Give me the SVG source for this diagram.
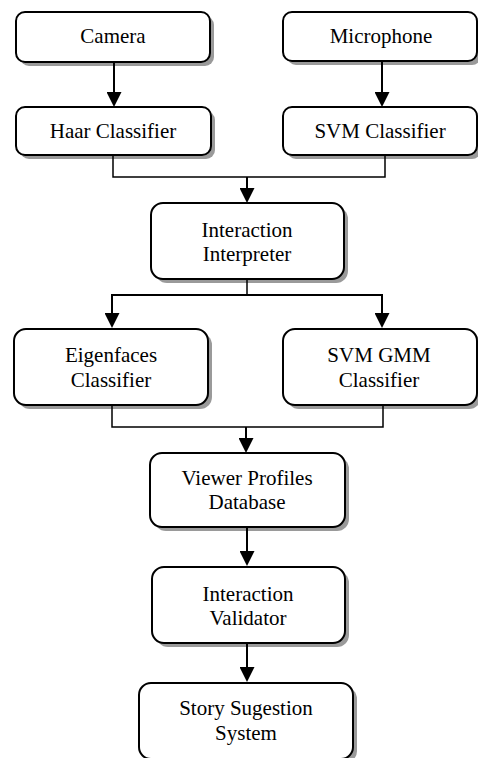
<svg xmlns="http://www.w3.org/2000/svg" width="478" height="758" viewBox="0 0 478 758">
<style>
.box{fill:#fff;stroke:#000;stroke-width:2}
.sh{fill:#9a9a9a;stroke:none}
.t{font-family:"Liberation Serif","Times New Roman",serif;font-size:21px;fill:#000;text-anchor:middle}
.c{fill:none;stroke:#000;stroke-width:2}
.thin{fill:none;stroke:#000;stroke-width:1.5}
.a{fill:none;stroke:#000;stroke-width:2;marker-end:url(#ah)}
</style>
<defs>
<marker id="ah" markerUnits="userSpaceOnUse" markerWidth="15" markerHeight="15" refX="3" refY="7.5" orient="auto">
<path d="M0,0 L15,7.5 L0,15 z" fill="#000"/>
</marker>
</defs>
<rect width="478" height="758" fill="#fff"/>
<g id="camera">
<rect class="sh" x="20" y="16" width="194" height="50" rx="9"/>
<rect class="box" x="16" y="12" width="194" height="50" rx="9"/>
<text class="t" x="113" y="43">Camera</text>
</g>
<g id="microphone">
<rect class="sh" x="287" y="16" width="194" height="49" rx="9"/>
<rect class="box" x="283" y="12" width="194" height="49" rx="9"/>
<text class="t" x="381" y="43">Microphone</text>
</g>
<g id="haar">
<rect class="sh" x="20" y="111" width="195" height="48" rx="9"/>
<rect class="box" x="16" y="107" width="195" height="48" rx="9"/>
<text class="t" x="113" y="138">Haar Classifier</text>
</g>
<g id="svm">
<rect class="sh" x="287" y="111" width="194" height="48" rx="9"/>
<rect class="box" x="283" y="107" width="194" height="48" rx="9"/>
<text class="t" x="380" y="138">SVM Classifier</text>
</g>
<g id="interpreter">
<rect class="sh" x="155" y="207" width="193" height="76" rx="12"/>
<rect class="box" x="151" y="203" width="193" height="76" rx="12"/>
<text class="t" x="247" y="237">Interaction</text>
<text class="t" x="247" y="261">Interpreter</text>
</g>
<g id="eigenfaces">
<rect class="sh" x="18" y="333" width="194" height="76" rx="12"/>
<rect class="box" x="14" y="329" width="194" height="76" rx="12"/>
<text class="t" x="111" y="362">Eigenfaces</text>
<text class="t" x="111" y="387">Classifier</text>
</g>
<g id="svmgmm">
<rect class="sh" x="287" y="333" width="194" height="76" rx="12"/>
<rect class="box" x="283" y="329" width="194" height="76" rx="12"/>
<text class="t" x="379" y="362">SVM GMM</text>
<text class="t" x="379" y="387">Classifier</text>
</g>
<g id="viewer">
<rect class="sh" x="154" y="457" width="195" height="74" rx="12"/>
<rect class="box" x="150" y="453" width="195" height="74" rx="12"/>
<text class="t" x="247" y="485">Viewer Profiles</text>
<text class="t" x="247" y="509">Database</text>
</g>
<g id="validator">
<rect class="sh" x="156" y="571" width="193" height="76" rx="12"/>
<rect class="box" x="152" y="567" width="193" height="76" rx="12"/>
<text class="t" x="248" y="601">Interaction</text>
<text class="t" x="248" y="625">Validator</text>
</g>
<g id="story">
<rect class="sh" x="143" y="687" width="214" height="76" rx="12"/>
<rect class="box" x="139" y="683" width="214" height="76" rx="12"/>
<text class="t" x="246" y="715">Story Sugestion</text>
<text class="t" x="246" y="740">System</text>
</g>
<g id="connectors">
<line class="a" x1="114" y1="62" x2="114" y2="95"/>
<line class="a" x1="382" y1="61" x2="382" y2="95"/>
<polyline class="thin" points="113,155 113,177 385,177 385,155"/>
<line class="a" x1="247" y1="177" x2="247" y2="191"/>
<line class="thin" x1="247" y1="279" x2="247" y2="295"/>
<line class="c" x1="111" y1="295" x2="383" y2="295"/>
<line class="a" x1="112" y1="295" x2="112" y2="316"/>
<line class="a" x1="382" y1="295" x2="382" y2="316"/>
<polyline class="thin" points="112,405 112,427 383,427 383,405"/>
<line class="a" x1="246" y1="427" x2="246" y2="441"/>
<line class="a" x1="247" y1="527" x2="247" y2="554"/>
<line class="a" x1="247" y1="643" x2="247" y2="670"/>
</g>
</svg>
